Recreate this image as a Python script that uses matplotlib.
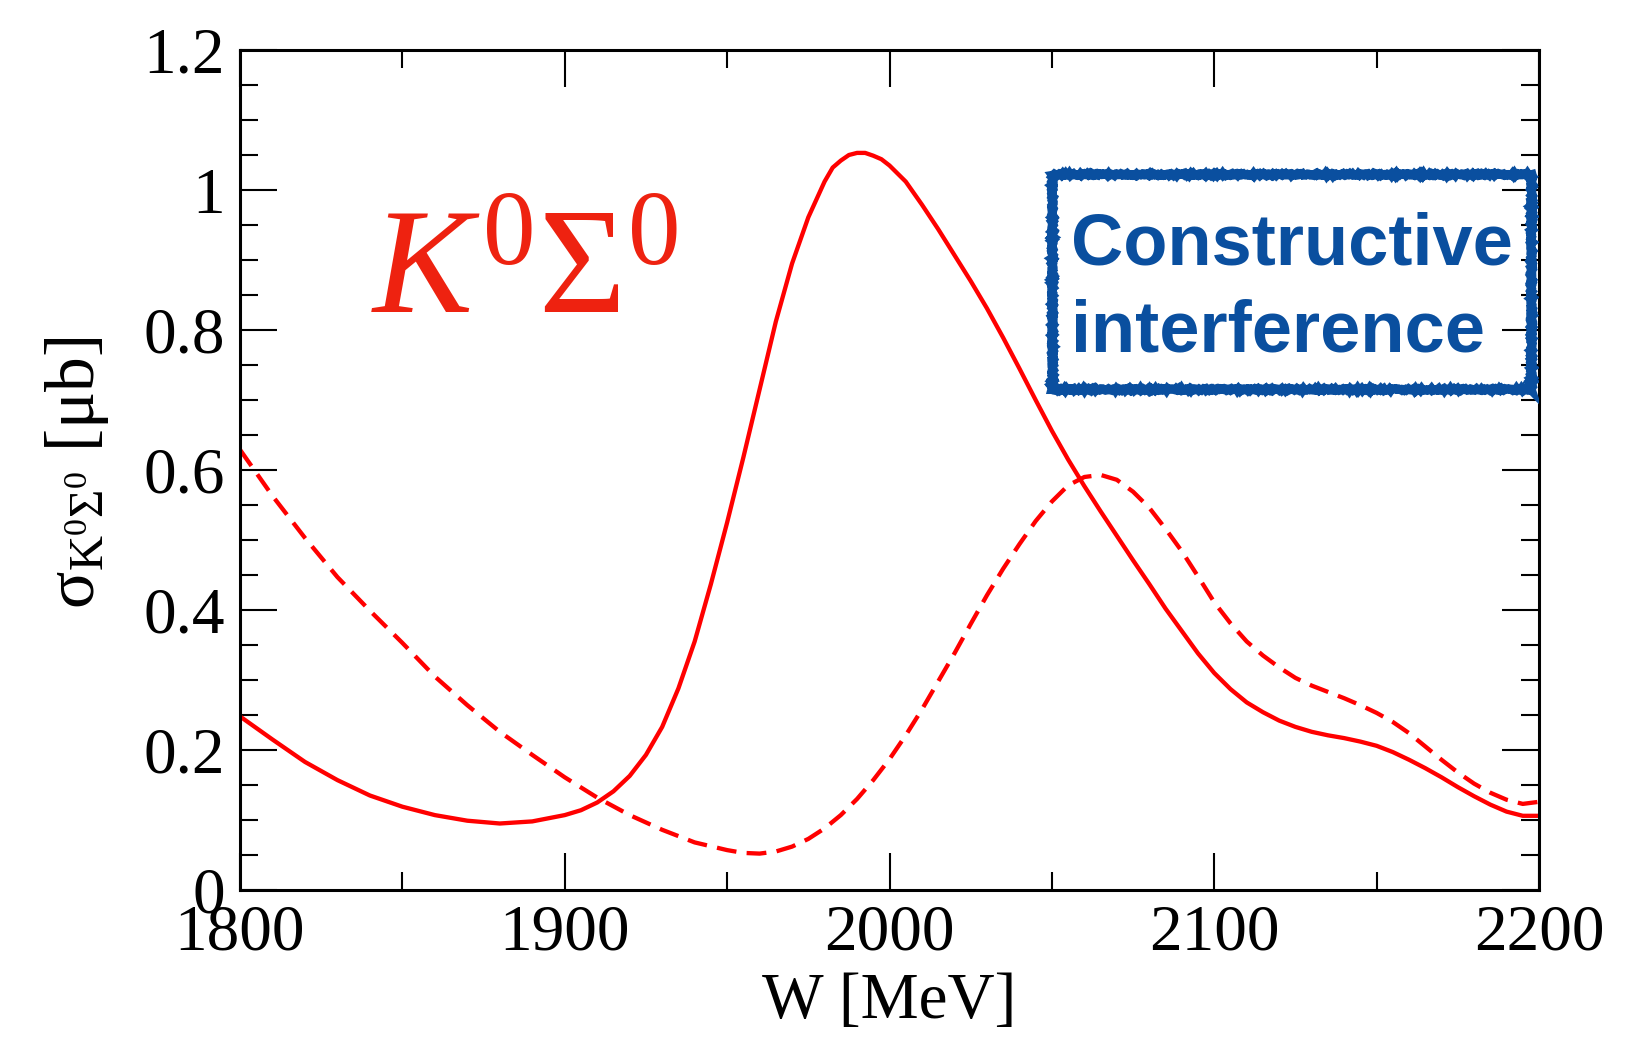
import matplotlib
matplotlib.use("Agg")
import matplotlib.pyplot as plt
from matplotlib.ticker import MultipleLocator
from matplotlib.patches import Rectangle

plt.rcParams['font.family'] = ['Liberation Serif', 'DejaVu Serif']
plt.rcParams['mathtext.fontset'] = 'custom'
plt.rcParams['mathtext.rm'] = 'Liberation Serif'
plt.rcParams['mathtext.it'] = 'Liberation Serif:italic'
plt.rcParams['mathtext.bf'] = 'Liberation Serif:bold'

# Total cross section, full calculation (solid)
w_full = [1800, 1810, 1820, 1830, 1840, 1850, 1860, 1870, 1880, 1890,
          1900, 1905, 1910, 1915, 1920, 1925, 1930, 1935, 1940, 1945,
          1950, 1955, 1960, 1965, 1970, 1975, 1980, 1982.5, 1985, 1987.5,
          1990, 1992.5, 1995, 1997.5, 2000, 2005, 2010, 2015, 2020, 2025,
          2030, 2035, 2040, 2045, 2050, 2055, 2060, 2065, 2070, 2075,
          2080, 2085, 2090, 2095, 2100, 2105, 2110, 2115, 2120, 2125,
          2130, 2135, 2140, 2145, 2150, 2155, 2160, 2165, 2170, 2175,
          2180, 2185, 2190, 2195, 2200]
sigma_full = [0.248, 0.215, 0.183, 0.157, 0.135, 0.119, 0.107, 0.099, 0.095, 0.098,
              0.107, 0.114, 0.125, 0.141, 0.163, 0.193, 0.233, 0.288, 0.355, 0.437,
              0.525, 0.618, 0.715, 0.812, 0.895, 0.961, 1.012, 1.032, 1.042, 1.050,
              1.053, 1.053, 1.049, 1.044, 1.035, 1.012, 0.979, 0.944, 0.907, 0.870,
              0.831, 0.789, 0.745, 0.700, 0.656, 0.615, 0.577, 0.541, 0.506, 0.471,
              0.437, 0.402, 0.370, 0.338, 0.310, 0.287, 0.268, 0.254, 0.242, 0.233,
              0.226, 0.221, 0.217, 0.212, 0.206, 0.197, 0.186, 0.174, 0.161, 0.147,
              0.134, 0.122, 0.112, 0.106, 0.106]

# Cross section without the resonance term (dashed)
w_bg = [1800, 1810, 1820, 1830, 1840, 1850, 1860, 1870, 1880, 1890,
        1900, 1910, 1920, 1930, 1940, 1950, 1955, 1960, 1965, 1970,
        1975, 1980, 1985, 1990, 1995, 2000, 2005, 2010, 2015, 2020,
        2025, 2030, 2035, 2040, 2045, 2050, 2055, 2060, 2065, 2070,
        2075, 2080, 2085, 2090, 2095, 2100, 2105, 2110, 2115, 2120,
        2125, 2130, 2135, 2140, 2145, 2150, 2155, 2160, 2165, 2170,
        2175, 2180, 2185, 2190, 2195, 2200]
sigma_bg = [0.629, 0.563, 0.503, 0.447, 0.399, 0.353, 0.305, 0.264, 0.226, 0.193,
            0.161, 0.132, 0.107, 0.086, 0.068, 0.057, 0.053, 0.052, 0.055, 0.062,
            0.073, 0.088, 0.107, 0.130, 0.157, 0.187, 0.221, 0.258, 0.298, 0.338,
            0.380, 0.421, 0.459, 0.494, 0.527, 0.555, 0.578, 0.590, 0.593, 0.586,
            0.569, 0.546, 0.516, 0.484, 0.448, 0.411, 0.381, 0.355, 0.335, 0.318,
            0.303, 0.292, 0.283, 0.274, 0.264, 0.253, 0.240, 0.224, 0.205, 0.186,
            0.168, 0.152, 0.139, 0.129, 0.123, 0.126]

x_ticks = [1800, 1900, 2000, 2100, 2200]
y_ticks = [0, 0.2, 0.4, 0.6, 0.8, 1.0, 1.2]
y_ticklabels = ['0', '0.2', '0.4', '0.6', '0.8', '1', '1.2']

line_red = '#FF0000'
title_red = '#EE2210'
note_blue = '#0A4F9F'

fig = plt.figure(figsize=(16.39, 10.37), dpi=100)
ax = fig.add_axes([0.14643, 0.14175, 0.79256, 0.81003])

ax.plot(w_full, sigma_full, color=line_red, lw=3.1, solid_joinstyle='round')
ax.plot(w_bg, sigma_bg, color=line_red, lw=3.1, dashes=(4.6, 2.4))

ax.set_xlim(1800, 2200)
ax.set_ylim(0, 1.2)
ax.set_xticks(x_ticks)
ax.set_yticks(y_ticks)
ax.set_yticklabels(y_ticklabels)
ax.xaxis.set_minor_locator(MultipleLocator(50))
ax.yaxis.set_minor_locator(MultipleLocator(0.05))
ax.tick_params(which='both', direction='in', top=True, right=True,
               width=1.5, color='black')
ax.tick_params(which='major', length=26.5, labelsize=47)
ax.tick_params(which='minor', length=13)
ax.tick_params(axis='x', which='major', pad=10)
ax.tick_params(axis='y', which='major', pad=11)
for s in ax.spines.values():
    s.set_linewidth(2.2)

ax.set_xlabel('W [MeV]', fontsize=47, va='baseline')
ax.xaxis.set_label_coords(0.5, -0.152)
ax.set_ylabel(r'σ$_{\mathrm{K}^0\Sigma^0}$ [μb]', fontsize=50, va='baseline')
ax.yaxis.set_label_coords(-0.1124, 0.497)

# Channel name
ax.text(0.101, 0.687, r'$K^0\Sigma^0$', transform=ax.transAxes,
        fontsize=108, color=title_red, ha='left', va='baseline')

# Annotation box
box = Rectangle((0.6251, 0.5964), 0.3687, 0.2556, transform=ax.transAxes,
                fill=False, edgecolor=note_blue, lw=6.5, zorder=5)
box.set_sketch_params(scale=0.8, length=2, randomness=4)
ax.add_patch(box)
ax.text(0.6397, 0.7446, 'Constructive', transform=ax.transAxes,
        fontsize=52, fontweight='bold', color=note_blue,
        family=['Liberation Sans', 'DejaVu Sans'], ha='left', va='baseline')
ax.text(0.6397, 0.6405, 'interference', transform=ax.transAxes,
        fontsize=52, fontweight='bold', color=note_blue,
        family=['Liberation Sans', 'DejaVu Sans'], ha='left', va='baseline')

fig.savefig('out.png', dpi=100)
